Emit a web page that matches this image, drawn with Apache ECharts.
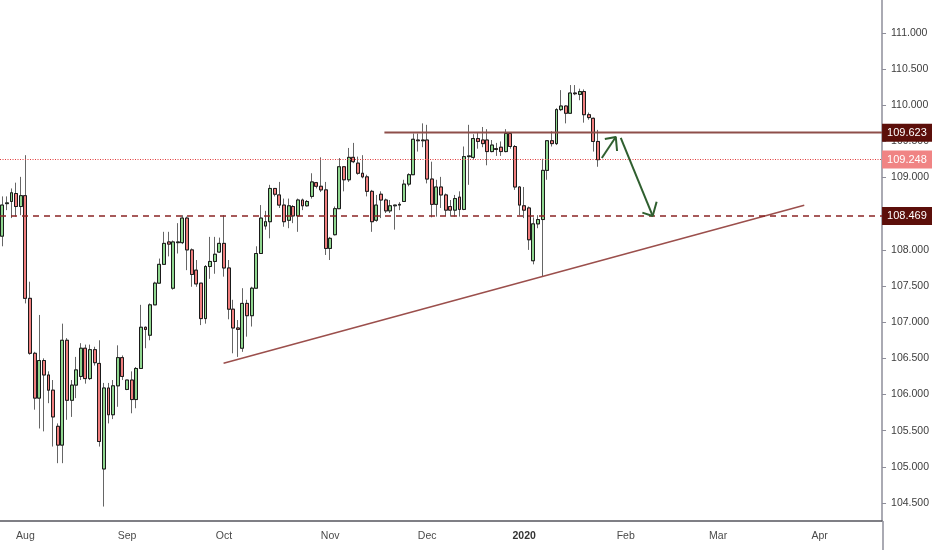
<!DOCTYPE html>
<html><head><meta charset="utf-8">
<script src="https://cdn.jsdelivr.net/npm/echarts@6/dist/echarts.min.js"></script>
<style>html,body{margin:0;padding:0;background:#fff}#c{width:932px;height:550px}</style>
</head><body><div id="c"></div>
<script>
// ---- data (USD/JPY daily) ----
const opens = [108.19,108.64,108.67,108.78,108.60, 108.75,107.33,106.57,105.95,106.47,
  106.27,106.06,105.56,105.30,106.75, 105.92,106.13,106.25,106.64,106.22,
  106.62,106.43,104.97,106.09,105.72, 106.12,106.51,106.07,106.20,105.93,
  106.36,106.93,106.82,107.24,107.54, 107.80,108.11,107.47,108.10,108.10,
  108.44,108.00,107.72,107.54,107.05, 107.77,107.84,107.97,108.09,107.75,
  107.18,106.92,106.64,107.26,107.09, 107.47,107.95,108.33,108.39,108.85,
  108.76,108.62,108.41,108.60,108.47, 108.69,108.61,108.74,108.93,108.88,
  108.83,108.02,108.21,108.57,109.15, 108.97,109.28,109.20,109.06,109.01,
  108.81,108.41,108.77,108.69,108.54, 108.61,108.62,108.67,108.91,109.04,
  109.52,109.51,109.52,
  108.98,108.63,108.87,108.76,108.60, 108.55,108.73,108.56,109.29,109.28,
  109.54,109.52,109.52,109.36,109.40, 109.42,109.36,109.61,109.43,108.87,
  108.61,108.58,107.85,108.36,108.42, 109.10,109.51,109.47,109.94,109.99,
  109.89,110.17,110.15,110.19,109.87, 109.82,109.50];
const closes = [108.62,108.65,108.79,108.60,108.75, 107.33,106.57,105.95,106.47,106.27,
  106.06,105.69,105.30,106.75,105.92, 106.13,106.34,106.64,106.22,106.62,
  106.44,105.35,106.09,105.72,106.12, 106.51,106.25,106.20,105.93,106.36,
  106.93,106.90,107.24,107.54,107.80, 108.09,108.08,108.11,108.11,108.44,
  108.00,107.66,107.53,107.05,107.77, 107.84,107.94,108.09,107.75,107.18,
  106.92,106.90,107.26,107.09,107.47, 107.95,108.44,108.39,108.85,108.77,
  108.62,108.39,108.61,108.47,108.69, 108.61,108.67,108.94,108.88,108.83,
  108.02,108.16,108.57,109.15,108.97, 109.28,109.22,109.06,109.01,108.81,
  108.39,108.62,108.69,108.54,108.61, 108.62,108.63,108.91,109.04,109.53,
  109.51,109.52,108.98,
  108.63,108.87,108.76,108.55,108.55, 108.71,108.56,109.29,109.30,109.54,
  109.50,109.47,109.36,109.45,109.39, 109.36,109.61,109.43,108.87,108.62,
  108.55,108.14,108.36,108.42,109.10, 109.51,109.47,109.94,109.99,109.89,
  110.17,110.16,110.19,109.87,109.83, 109.50,109.248];
const lows = [108.05,108.55,108.44,108.46,108.48, 107.26,106.55,105.79,105.53,105.49,
  105.88,105.28,105.05,105.05,105.65, 105.69,105.95,106.20,106.15,106.20,
  106.40,105.28,104.45,105.60,105.66, 105.83,106.20,106.06,105.74,105.81,
  106.36,106.64,106.75,107.24,107.54, 107.80,107.91,107.45,107.95,108.08,
  107.72,107.49,107.49,106.96,106.98, 107.60,107.67,107.96,107.63,107.04,
  106.57,106.52,106.59,106.80,106.94, 107.47,107.95,108.28,108.16,108.74,
  108.58,108.32,108.30,108.37,108.25, 108.55,108.60,108.71,108.85,108.80,
  107.93,107.86,108.20,108.57,108.81, 108.94,109.20,109.04,108.99,108.74,
  108.25,108.39,108.44,108.51,108.51, 108.28,108.55,108.67,108.88,109.04,
  109.36,109.42,108.92,
  108.45,108.46,108.58,108.47,108.46, 108.46,108.46,108.55,108.90,109.25,
  109.40,109.42,109.17,109.35,109.30, 109.30,109.35,109.40,108.83,108.48,
  108.44,108.00,107.80,108.30,107.63, 108.97,109.43,109.45,109.92,109.75,
  109.89,110.14,110.07,109.76,109.80, 109.36,109.15];
const highs = [108.74,108.74,108.85,108.93,109.01, 109.31,107.56,106.59,107.10,106.50,
  106.32,106.20,105.60,106.98,106.78, 106.20,106.52,106.71,106.69,106.69,
  106.66,106.75,106.16,106.16,106.20, 106.68,106.54,106.20,106.32,106.38,
  107.24,106.94,107.26,107.56,107.88, 108.25,108.25,108.13,108.37,108.48,
  108.46,108.02,107.86,107.54,107.79, 108.18,108.18,108.17,108.48,107.86,
  107.31,107.03,107.47,107.31,107.49, 108.05,108.62,108.54,108.90,108.85,
  108.94,108.71,108.71,108.62,108.71, 108.71,108.69,109.06,108.94,109.28,
  108.94,108.18,108.60,109.27,109.15, 109.41,109.48,109.29,109.31,109.04,
  108.83,108.76,108.81,108.71,108.69, 108.62,108.66,108.97,109.06,109.61,
  109.61,109.75,109.73,
  109.22,108.97,109.01,108.78,108.69, 108.76,108.81,109.43,109.73,109.60,
  109.62,109.70,109.67,109.52,109.48, 109.50,109.67,109.62,109.45,108.88,
  108.87,108.60,108.45,108.48,109.26, 109.52,109.64,109.96,110.21,110.00,
  110.28,110.28,110.23,110.22,109.90, 109.83,109.66];

// calendar of daily slots (weekdays, holidays without a bar removed)
const firstDay = [2019, 6, 25];
const slotCount = 191;
const skipDays = ['2019-12-25', '2020-01-01'];
// month labels, index = month - 1 (January shows the year)
const monthNames = ['2020','Feb','Mar','Apr','May','Jun','Jul','Aug','Sep','Oct','Nov','Dec'];

const yTicks = [104.5,105,105.5,106,106.5,107,107.5,108,108.5,109,109.5,110,110.5,111];

// annotations (x in slot units, y in price)
const supportLevel = 108.469;
const resistanceLevel = 109.623;
const lastPrice = 109.248;
const resistanceLine = [[82.74, 109.623], [190.5, 109.623]];
const trendLine = [[47.91, 106.432], [173.65, 108.618]];
const arrowUp = [[129.82, 109.271], [132.84, 109.562]];
const arrowUpHead = [[130.47, 109.534], [132.84, 109.562], [133.12, 109.368]];
const arrowDown = [[133.92, 109.548], [140.83, 108.469]];
const arrowDownHead = [[138.60, 108.515], [140.83, 108.469], [141.69, 108.667]];

// ---- build ----
function buildDates() {
  const out = [];
  const d = new Date(Date.UTC(firstDay[0], firstDay[1], firstDay[2]));
  while (out.length < slotCount) {
    const wd = d.getUTCDay();
    const s = d.toISOString().slice(0, 10);
    if (wd !== 0 && wd !== 6 && skipDays.indexOf(s) < 0) out.push(s);
    d.setUTCDate(d.getUTCDate() + 1);
  }
  return out;
}
const dates = buildDates();
const isMonthStart = (i) => i > 0 && dates[i].slice(5, 7) !== dates[i - 1].slice(5, 7);

const full = opens.map((o, i) => [o, closes[i], lows[i], highs[i]]);
const bodies = opens.map((o, i) => [o, closes[i], Math.min(o, closes[i]), Math.max(o, closes[i])]);

const FONT = "'Liberation Sans', Arial, sans-serif";
const UP = '#8fd68f', DOWN = '#f07e7e';

function tag(v, bg) {
  return { show: true, position: 'end', distance: 0, formatter: v.toFixed(3),
    color: '#ffffff', backgroundColor: bg, padding: [3, 8, 3, 5],
    fontSize: 11, lineHeight: 12, fontFamily: FONT };
}

const chart = echarts.init(document.getElementById('c'), null, { renderer: 'canvas' });
const green = '#2f5f2f';
function seg(data, color, width, z) {
  return { type: 'line', xAxisIndex: 1, yAxisIndex: 0, data: data, showSymbol: false,
    symbol: 'none', silent: true, z: z || 5, animation: false,
    lineStyle: { color: color, width: width } };
}

const trend = seg(trendLine, '#9b4f4c', 1.5, 4);
trend.markLine = {
  symbol: 'none', silent: true, animation: false,
  data: [
    { yAxis: supportLevel, lineStyle: { color: '#8b2525', width: 1.5, type: [6, 5] }, label: tag(supportLevel, '#5c0f0a') },
    { yAxis: lastPrice, lineStyle: { color: '#e23a3a', width: 1, type: [1, 1.5] }, label: tag(lastPrice, '#f08484') },
    { yAxis: resistanceLevel, lineStyle: { color: 'rgba(0,0,0,0)', width: 1 }, label: tag(resistanceLevel, '#5c0f0a') }
  ]
};

chart.setOption({
  backgroundColor: '#ffffff',
  animation: false,
  grid: { left: -1.5, right: 49, top: 0, bottom: 29, containLabel: false },
  xAxis: [{
    type: 'category', data: dates, boundaryGap: true, gridIndex: 0,
    axisLine: { onZero: false, lineStyle: { color: '#55555d', width: 1.5 } },
    axisTick: { alignWithLabel: true, length: 3, interval: (i) => isMonthStart(i), lineStyle: { color: '#55555d' } },
    axisLabel: {
      interval: (i) => isMonthStart(i), margin: 10, color: '#4a4a4a', fontSize: 10.5, fontFamily: FONT,
      formatter: (v) => { const m = parseInt(v.slice(5, 7), 10); return m === 1 ? '{b|' + monthNames[0] + '}' : monthNames[m - 1]; },
      rich: { b: { fontWeight: 'bold', color: '#333', fontSize: 10.5, fontFamily: FONT } }
    },
    splitLine: { show: false }
  }, {
    type: 'value', min: -0.5, max: slotCount - 0.5, show: false, gridIndex: 0
  }],
  yAxis: [{
    type: 'value', position: 'right', min: 104.2503, max: 111.4564,
    axisLine: { show: true, onZero: false, lineStyle: { color: '#8e8e9a', width: 1.5 } },
    axisTick: { show: true, length: 4, customValues: yTicks, lineStyle: { color: '#8e8e9a' } },
    axisLabel: { customValues: yTicks, margin: 9, color: '#3d3d3d', fontSize: 10.5, fontFamily: FONT,
      formatter: (v) => v.toFixed(3) },
    splitLine: { show: false }
  }],
  series: [
    { type: 'candlestick', data: full, barWidth: 3.4, z: 2, silent: true,
      itemStyle: { color: UP, color0: DOWN, borderColor: '#666666', borderColor0: '#666666', borderWidth: 1 } },
    { type: 'candlestick', data: bodies, barWidth: 3.4, z: 3, silent: true,
      itemStyle: { color: UP, color0: DOWN, borderColor: '#1a1a1a', borderColor0: '#1a1a1a', borderWidth: 1 } },
    trend,
    seg(resistanceLine, '#8e4e4a', 2, 4),
    seg(arrowUp, green, 2, 6),
    seg(arrowUpHead, green, 2, 6),
    seg(arrowDown, green, 2, 6),
    seg(arrowDownHead, green, 2, 6)
  ],
  graphic: [{
    type: 'line', silent: true, z: 100,
    shape: { x1: 883, y1: 521, x2: 883, y2: 550 },
    style: { stroke: '#8e8e9a', lineWidth: 1.5 }
  }]
});
</script>
</body></html>
